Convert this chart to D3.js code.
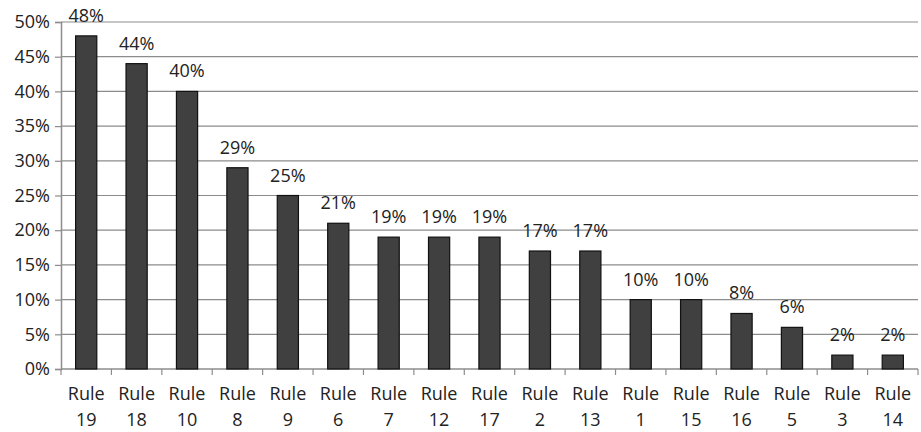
<!DOCTYPE html>
<html>
<head>
<meta charset="utf-8">
<script src="https://cdn.jsdelivr.net/npm/d3@7"></script>
<style>
  body { margin: 0; background: #fff; }
  text { font-family: "Open Sans", "DejaVu Sans", sans-serif; fill: #222; }
</style>
</head>
<body>
<svg id="chart" width="921" height="432"></svg>
<script>
// rules, sorted as in the picture
const rules = ["19", "18", "10", "8", "9", "6", "7", "12", "17", "2", "13", "1", "15", "16", "5", "3", "14"];
const shares = [48, 44, 40, 29, 25, 21, 19, 19, 19, 17, 17, 10, 10, 8, 6, 2, 2];
const yTicks = [0, 5, 10, 15, 20, 25, 30, 35, 40, 45, 50];

const width = 921, height = 432;
const margin = { top: 22, right: 3, bottom: 63, left: 61 };
const fontSize = "18px";
const gridColor = "#8c8c8c";

const svg = d3.select("#chart");

const x = d3.scaleBand()
    .domain(rules)
    .range([margin.left, width - margin.right])
    .paddingInner(0.58)
    .paddingOuter(0.29);

const y = d3.scaleLinear()
    .domain([0, 50])
    .range([height - margin.bottom, margin.top]);

// grid lines
svg.append("g")
    .selectAll("line")
    .data(yTicks.filter(d => d > 0))
    .join("line")
    .attr("x1", margin.left)
    .attr("x2", width - margin.right)
    .attr("y1", d => y(d))
    .attr("y2", d => y(d))
    .attr("stroke", gridColor)
    .attr("stroke-width", 1.2);

// y axis
const yAxis = svg.append("g")
    .attr("transform", `translate(${margin.left},0)`)
    .call(d3.axisLeft(y).tickValues(yTicks).tickSize(6).tickFormat(d => d + "%"));
yAxis.select(".domain").attr("stroke", gridColor).attr("stroke-width", 1.5);
yAxis.selectAll(".tick line").attr("stroke", gridColor).attr("stroke-width", 1.2);
yAxis.selectAll(".tick text")
    .attr("x", -11)
    .style("font-size", fontSize)
    .style("font-family", "'Open Sans', 'DejaVu Sans', sans-serif")
    .attr("fill", "#222");

// x axis line, ticks sit between categories
svg.append("line")
    .attr("x1", margin.left).attr("x2", width - margin.right)
    .attr("y1", y(0)).attr("y2", y(0))
    .attr("stroke", gridColor).attr("stroke-width", 1.5);
const catWidth = (width - margin.left - margin.right) / rules.length;
svg.append("g")
    .selectAll("line")
    .data(d3.range(rules.length + 1))
    .join("line")
    .attr("x1", i => margin.left + i * catWidth)
    .attr("x2", i => margin.left + i * catWidth)
    .attr("y1", y(0)).attr("y2", y(0) + 6)
    .attr("stroke", gridColor).attr("stroke-width", 1.2);

// bars
svg.append("g")
    .selectAll("rect")
    .data(rules)
    .join("rect")
    .attr("x", d => x(d))
    .attr("width", x.bandwidth())
    .attr("y", (d, i) => y(shares[i]))
    .attr("height", (d, i) => y(0) - y(shares[i]))
    .attr("fill", "#404040")
    .attr("stroke", "#111")
    .attr("stroke-width", 1.2);

// value labels
svg.append("g")
    .selectAll("text")
    .data(rules)
    .join("text")
    .attr("x", d => x(d) + x.bandwidth() / 2)
    .attr("y", (d, i) => y(shares[i]) - 14)
    .attr("text-anchor", "middle")
    .style("font-size", fontSize)
    .text((d, i) => shares[i] + "%");

// category labels
const cat = svg.append("g")
    .selectAll("text")
    .data(rules)
    .join("text")
    .attr("text-anchor", "middle")
    .style("font-size", fontSize);
cat.append("tspan")
    .attr("x", d => x(d) + x.bandwidth() / 2)
    .attr("y", 400)
    .text("Rule");
cat.append("tspan")
    .attr("x", d => x(d) + x.bandwidth() / 2)
    .attr("y", 426)
    .text(d => d);
</script>
</body>
</html>
